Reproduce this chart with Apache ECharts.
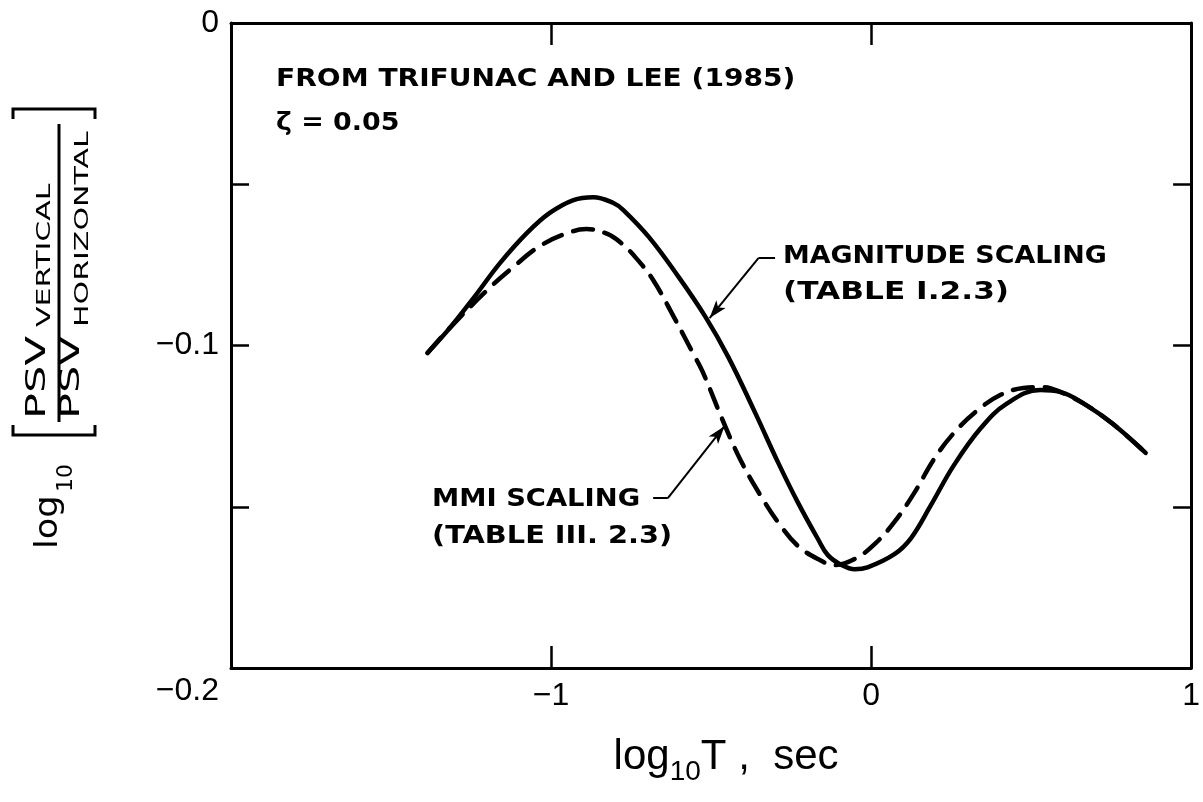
<!DOCTYPE html>
<html><head><meta charset="utf-8">
<script src="https://cdn.jsdelivr.net/npm/echarts@6/dist/echarts.min.js"></script>
<style>html,body{margin:0;padding:0;background:#fff}#c{width:1203px;height:802px}</style>
</head><body><div id="c"></div>
<script>
// ---- data ----
const magLogT = [-1.386,-1.314,-1.240,-1.159,-1.075,-1.004,-0.930,-0.868,-0.805,-0.774,-0.694,-0.601,-0.517,-0.446,-0.362,-0.290,-0.228,-0.166,-0.135,-0.092,-0.051,-0.011,0.073,0.125,0.187,0.259,0.343,0.423,0.529,0.591,0.671,0.755,0.858];
const magRatio = [-0.1023,-0.0943,-0.0850,-0.0744,-0.0651,-0.0589,-0.0549,-0.0540,-0.0558,-0.0580,-0.0664,-0.0788,-0.0912,-0.1036,-0.1209,-0.1364,-0.1488,-0.1600,-0.1650,-0.1681,-0.1694,-0.1688,-0.1647,-0.1597,-0.1495,-0.1371,-0.1256,-0.1181,-0.1138,-0.1144,-0.1184,-0.1243,-0.1333];
const mmiLogT = [-1.386,-1.314,-1.196,-1.122,-1.029,-0.930,-0.889,-0.824,-0.781,-0.734,-0.681,-0.616,-0.557,-0.526,-0.464,-0.408,-0.346,-0.284,-0.228,-0.166,-0.114,-0.051,0.011,0.073,0.135,0.197,0.259,0.330,0.405,0.476,0.538,0.591,0.671,0.755,0.858];
const mmiRatio = [-0.1023,-0.0943,-0.0825,-0.0760,-0.0688,-0.0645,-0.0639,-0.0654,-0.0682,-0.0729,-0.0797,-0.0912,-0.1023,-0.1082,-0.1231,-0.1355,-0.1464,-0.1557,-0.1622,-0.1662,-0.1681,-0.1662,-0.1616,-0.1547,-0.1457,-0.1352,-0.1271,-0.1203,-0.1153,-0.1132,-0.1129,-0.1144,-0.1184,-0.1243,-0.1333];
const xTickLabels = {'-1':'\u22121', '0':'0', '1':'1'};
const yTickLabels = {'0':'0', '-10':'\u22120.1', '-20':'\u22120.2'};
// annotation leader lines [x, y] in data units
const magLeader = [[-0.300,-0.0729],[-0.352,-0.0729],[-0.5045,-0.0915]];
const mmiLeader = [[-0.681,-0.1473],[-0.635,-0.1473],[-0.458,-0.1250]];

const zip = (a,b) => a.map((v,i)=>[v,b[i]]);
const chart = echarts.init(document.getElementById('c'));
const LBL = 'Liberation Sans';
const TXT = 'DejaVu Sans';
const axisLineStyle = {color:'#000', width:3};
const tickStyle = {color:'#000', width:2.5};

function leader(pts){
  return [
    [{coord:pts[0], symbol:'none'},{coord:pts[1], symbol:'none'}],
    [{coord:pts[1], symbol:'none'},{coord:pts[2], symbol:'arrow', symbolSize:[9,18]}]
  ];
}

const option = {
  animation:false,
  backgroundColor:'#fff',
  grid:{left:231, right:4, top:23, bottom:134},
  xAxis:[
    {type:'value', position:'bottom', min:-2, max:1, interval:1,
     axisLine:{onZero:false, lineStyle:axisLineStyle},
     axisTick:{inside:true, length:22, lineStyle:tickStyle},
     splitLine:{show:false},
     axisLabel:{showMinLabel:true, showMaxLabel:true, margin:12, color:'#000', fontFamily:LBL, fontSize:32,
       formatter:v=> xTickLabels[String(Math.round(v))] || ''},
     name:'{a|log}{b|10}{a|T ,  sec}', nameLocation:'middle', nameGap:60,
     nameTextStyle:{padding:[0,0,0,30], rich:{
       a:{fontFamily:LBL, fontSize:42, color:'#000'},
       b:{fontFamily:LBL, fontSize:28, color:'#000', padding:[30,0,0,0]}}}
    },
    {type:'value', position:'top', min:-2, max:1, interval:1,
     axisLine:{onZero:false, lineStyle:axisLineStyle},
     axisTick:{inside:true, length:22, lineStyle:tickStyle},
     splitLine:{show:false}, axisLabel:{show:false}}
  ],
  yAxis:[
    {type:'value', position:'left', min:-0.2, max:0, interval:0.05,
     axisLine:{onZero:false, lineStyle:axisLineStyle},
     axisTick:{inside:true, length:18, lineStyle:tickStyle},
     splitLine:{show:false},
     axisLabel:{showMinLabel:true, showMaxLabel:true, margin:12, color:'#000', fontFamily:LBL, fontSize:32,
       formatter:v=>{
         const k = String(Math.round(v*100));
         if (k==='-20') return '{low|'+yTickLabels[k]+'}';
         return yTickLabels[k] || '';
       },
       rich:{low:{fontFamily:LBL, fontSize:32, color:'#000', padding:[46,0,0,0]}}}
    },
    {type:'value', position:'right', min:-0.2, max:0, interval:0.05,
     axisLine:{onZero:false, lineStyle:axisLineStyle},
     axisTick:{inside:true, length:18, lineStyle:tickStyle},
     splitLine:{show:false}, axisLabel:{show:false}}
  ],
  series:[
    {name:'Magnitude scaling', type:'line', xAxisIndex:0, yAxisIndex:0, smooth:0.4, showSymbol:false,
     data:zip(magLogT, magRatio),
     lineStyle:{color:'#000', width:4.5, cap:'round', join:'round'},
     markLine:{silent:true, animation:false, label:{show:false}, emphasis:{disabled:true},
       lineStyle:{color:'#000', width:2, type:'solid'}, data:leader(magLeader)}
    },
    {name:'MMI scaling', type:'line', xAxisIndex:0, yAxisIndex:0, smooth:0.4, showSymbol:false,
     data:zip(mmiLogT, mmiRatio),
     lineStyle:{color:'#000', width:4.5, type:[20,12], cap:'round'},
     markLine:{silent:true, animation:false, label:{show:false}, emphasis:{disabled:true},
       lineStyle:{color:'#000', width:2, type:'solid'}, data:leader(mmiLeader)}
    }
  ],
  graphic:[
    {type:'text', x:276, y:80, scaleX:1.17, style:{text:'FROM TRIFUNAC AND LEE (1985)', fontFamily:TXT, fontWeight:'bold', fontSize:24, fill:'#000', textVerticalAlign:'middle'}},
    {type:'text', x:276, y:124, scaleX:1.12, style:{text:'\u03B6 = 0.05', fontFamily:TXT, fontWeight:'bold', fontSize:24, fill:'#000', textVerticalAlign:'middle'}},
    {type:'text', x:783, y:257, scaleX:1.12, style:{text:'MAGNITUDE SCALING', fontFamily:TXT, fontWeight:'bold', fontSize:24, fill:'#000', textVerticalAlign:'middle'}},
    {type:'text', x:783, y:293, scaleX:1.3, style:{text:'(TABLE I.2.3)', fontFamily:TXT, fontWeight:'bold', fontSize:24, fill:'#000', textVerticalAlign:'middle'}},
    {type:'text', x:432, y:500, scaleX:1.14, style:{text:'MMI SCALING', fontFamily:TXT, fontWeight:'bold', fontSize:24, fill:'#000', textVerticalAlign:'middle'}},
    {type:'text', x:432, y:537, scaleX:1.2, style:{text:'(TABLE III. 2.3)', fontFamily:TXT, fontWeight:'bold', fontSize:24, fill:'#000', textVerticalAlign:'middle'}},
    // y-axis title, rotated
    {type:'group', x:15, y:549, rotation:Math.PI/2, children:[
      {type:'text', x:0, y:50, scaleX:1.1, style:{text:'log', fontFamily:TXT, fontSize:32, fill:'#000', textVerticalAlign:'bottom'}},
      {type:'text', x:57, y:62, style:{text:'10', fontFamily:TXT, fontSize:22, fill:'#000', textVerticalAlign:'bottom'}},
      {type:'polyline', shape:{points:[[124,-2],[114,-2],[114,80],[124,80]]}, style:{stroke:'#000', lineWidth:3, fill:null}},
      {type:'text', x:130, y:36, scaleX:1.6, style:{text:'PSV', fontFamily:TXT, fontSize:27, fill:'#000', textVerticalAlign:'bottom'}},
      {type:'text', x:222, y:40, scaleX:1.5, style:{text:'VERTICAL', fontFamily:TXT, fontSize:20, fill:'#000', textVerticalAlign:'bottom'}},
      {type:'line', shape:{x1:127, y1:44, x2:425, y2:44}, style:{stroke:'#000', lineWidth:3}},
      {type:'text', x:130, y:70, scaleX:1.6, style:{text:'PSV', fontFamily:TXT, fontSize:27, fill:'#000', textVerticalAlign:'bottom'}},
      {type:'text', x:222, y:78, scaleX:1.5, style:{text:'HORIZONTAL', fontFamily:TXT, fontSize:20, fill:'#000', textVerticalAlign:'bottom'}},
      {type:'polyline', shape:{points:[[430,-2],[440,-2],[440,80],[430,80]]}, style:{stroke:'#000', lineWidth:3, fill:null}}
    ]}
  ]
};
chart.setOption(option);
</script>
</body></html>
